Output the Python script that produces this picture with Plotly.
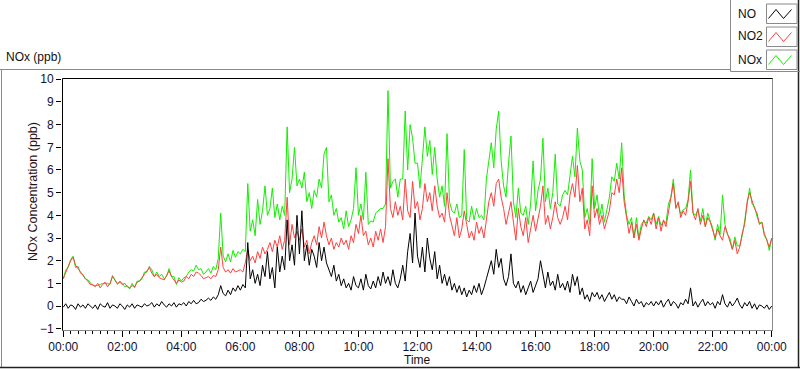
import pandas as pd
import plotly.graph_objects as go

# ---- data (5-minute samples, 00:00 .. 24:00) ----
DAY = "2024-01-01"
STEP_MIN = 5

NO = [
    -0.05, 0.1, -0.1, 0.05, 0.0, -0.15, 0.1, -0.05, 0.05, -0.1, 0.1, 0.0,
    -0.1, 0.05, -0.15, 0.1, 0.0, -0.05, 0.15, -0.1, 0.05, 0.0, -0.1, 0.1,
    0.0, -0.15, 0.05, -0.05, 0.1, -0.1, 0.05, 0.0, -0.05, 0.1, 0.0, 0.05,
    0.15, -0.05, 0.1, 0.0, 0.2, 0.05, -0.05, 0.1, 0.0, 0.15, -0.05, 0.1,
    0.05, 0.15, 0.0, 0.2, 0.1, 0.25, 0.1, 0.15, 0.3, 0.2, 0.25, 0.35,
    0.25, 0.4, 0.3, 0.5, 0.9, 0.55, 0.45, 0.7, 0.5, 0.8, 0.65, 0.9,
    0.7, 0.95, 0.8, 2.8, 1.2, 1.6, 1.0, 1.4, 0.9, 1.8, 1.3, 2.4,
    1.2, 1.7, 0.8, 2.6, 1.5, 2.2, 1.6, 3.8, 2.0, 2.7, 1.8, 4.0,
    2.3, 4.2, 2.0, 2.7, 1.8, 2.5, 2.2, 1.7, 2.8, 2.0, 2.6, 1.9,
    1.6, 1.3, 1.8, 1.1, 1.4, 0.9, 1.2, 0.8, 1.0, 0.7, 1.3, 0.9,
    0.8, 1.2, 0.7, 1.4, 0.9, 0.75, 1.1, 0.8, 1.3, 0.9, 1.5, 1.0,
    1.3, 0.9, 1.6, 1.0, 0.8, 1.2, 1.8, 1.1, 2.4, 3.2, 1.9, 4.1,
    2.2, 1.7, 2.6, 1.5, 3.0, 2.1, 1.6, 2.4, 1.2, 1.8, 1.0, 1.4,
    0.9, 1.3, 0.7, 1.0, 0.6, 0.9, 0.5, 0.8, 0.4, 0.7, 0.5, 0.9,
    0.6, 1.0, 0.5, 0.8, 1.2, 1.6, 2.0, 1.4, 2.5, 1.7, 2.1, 1.2,
    0.9, 1.3, 2.3, 1.0, 0.8, 1.1, 0.6, 0.9, 0.5, 0.8, 1.1, 0.6,
    0.9, 1.2, 2.0, 1.3, 0.8, 1.5, 0.9, 1.1, 0.7, 1.4, 0.8, 1.0,
    0.7, 1.1, 0.6, 1.4, 0.9, 1.3, 0.5, 0.8, 0.3, 0.5, 0.2, 0.6,
    0.4, 0.6, 0.3, 0.5, 0.2, 0.4, 0.6, 0.3, 0.5, 0.2, 0.4, 0.3,
    0.3, 0.1, 0.4, 0.2, 0.0, 0.3, 0.1, 0.2, -0.05, 0.15, 0.05, 0.2,
    0.0, 0.2, 0.05, 0.25, -0.05, 0.15, 0.3, 0.0, 0.2, 0.1, -0.1, 0.15,
    0.05, 0.3, 0.1, 0.8, 0.0, 0.2, -0.05, 0.15, 0.3, 0.0, 0.2, 0.05,
    0.15, -0.1, 0.2, 0.05, 0.5, 0.1, -0.05, 0.2, 0.0, 0.15, 0.35, 0.05,
    -0.1, 0.15, 0.0, 0.2, -0.1, 0.1, -0.15, 0.05, 0.0, -0.1, 0.05, -0.15,
    0.0,
]

NO2 = [
    1.2, 1.5, 1.75, 2.0, 2.15, 1.8, 1.65, 1.45, 1.35, 1.2, 1.1, 0.95,
    0.95, 0.85, 1.0, 0.8, 0.95, 1.05, 0.85, 1.0, 1.3, 1.15, 1.0, 1.05,
    0.95, 1.0, 0.85, 0.8, 0.9, 0.85, 1.05, 1.1, 1.25, 1.4, 1.5, 1.7,
    1.45, 1.3, 1.4, 1.25, 1.2, 1.15, 1.35, 1.55, 1.3, 1.15, 1.0, 1.15,
    1.05, 1.1, 1.3, 1.2, 1.4, 1.3, 1.5, 1.45, 1.35, 1.2, 1.25, 1.3,
    1.2, 1.35, 1.3, 1.6, 2.6, 1.7, 1.5, 1.6, 1.45, 1.65, 1.5, 1.55,
    1.6, 1.5, 1.9, 2.5, 2.0, 2.2, 1.9, 2.4, 2.1, 2.6, 2.3, 2.5,
    2.8, 2.4, 2.9, 2.6, 3.1, 2.5, 2.9, 4.8, 2.7, 3.6, 3.0, 3.3,
    2.9, 3.4, 2.6, 2.9, 2.3, 2.8, 3.1, 2.7, 3.5, 3.0, 3.7, 3.1,
    2.7, 3.0, 2.5, 2.8, 2.6, 3.0, 2.7, 2.9, 2.5, 3.1, 2.8, 3.6,
    3.2, 4.0, 3.1, 3.3, 2.7, 3.0, 2.6, 3.3, 2.9, 3.4, 2.8, 3.5,
    6.5, 4.3, 3.9, 4.6, 4.0, 4.4, 3.8, 5.6, 4.2, 3.9, 5.5, 4.3,
    4.6, 3.8, 4.3, 5.4, 4.6, 5.0, 4.2, 5.3, 4.4, 3.9, 4.1, 3.7,
    5.0, 4.0, 3.5, 3.1, 3.9, 3.0, 3.4, 4.2, 3.6, 3.0, 3.3, 2.9,
    3.7, 3.2, 3.5, 3.0, 3.8, 4.6, 5.0, 4.4, 5.4, 5.6, 4.8, 4.3,
    3.6, 4.1, 4.6, 3.7, 2.9, 4.3, 3.5, 3.1, 3.9, 2.8, 3.4, 4.0,
    3.3, 3.9, 4.4, 5.3, 3.6, 4.0, 3.4, 3.9, 4.6, 3.9, 3.6, 3.9,
    4.4, 3.8, 4.9, 5.4, 4.8, 6.2, 4.6, 5.2, 3.4, 3.8, 3.1, 5.3,
    3.9, 4.3, 3.6, 4.0, 3.4, 3.8, 4.2, 5.0, 4.9, 5.6, 5.0, 6.1,
    4.6, 3.9, 3.2, 3.7, 3.0, 3.6, 2.9, 3.4, 3.8, 3.5, 3.9, 3.6,
    4.1, 3.4, 3.9, 3.3, 3.8, 3.5, 4.2, 4.8, 5.4, 4.3, 4.6, 3.9,
    4.2, 4.0, 4.6, 5.5, 4.1, 3.8, 4.3, 3.6, 4.0, 3.5, 3.9, 3.7,
    3.3, 3.0, 3.4, 3.1, 2.9, 3.5, 3.2, 2.8, 2.5, 2.9, 2.3, 2.6,
    3.2, 3.6, 4.6, 5.0, 4.6, 4.3, 4.1, 3.6, 3.7, 3.2, 2.9, 2.6,
    3.0,
]

NOX = [
    1.2, 1.6, 1.7, 2.05, 2.2, 1.7, 1.75, 1.45, 1.4, 1.2, 1.15, 1.0,
    0.9, 0.9, 0.9, 0.95, 1.0, 1.0, 1.0, 0.95, 1.35, 1.15, 0.95, 1.1,
    1.0, 0.85, 0.9, 0.75, 1.0, 0.8, 1.1, 1.1, 1.2, 1.5, 1.5, 1.75,
    1.6, 1.3, 1.5, 1.3, 1.4, 1.2, 1.3, 1.65, 1.3, 1.3, 0.95, 1.25,
    1.1, 1.25, 1.3, 1.5, 1.6, 1.55, 1.8, 1.6, 1.65, 1.4, 1.5, 1.65,
    1.45, 1.75, 1.6, 2.1, 4.1, 2.2, 1.95, 2.3, 1.95, 2.45, 2.15, 2.4,
    2.3, 2.5, 2.4, 5.4, 3.3, 3.8, 3.1, 4.7, 3.6, 4.2, 5.3, 4.0,
    4.3, 5.2, 3.9, 4.5, 3.8, 4.4, 4.0, 7.9, 5.0, 5.6, 7.0, 5.3,
    5.6, 5.2, 5.9, 4.6, 5.0, 4.3, 5.1, 4.8, 5.6, 5.2, 6.7, 7.0,
    4.6, 4.9, 4.0, 4.3, 3.7, 3.9, 3.4, 4.2, 3.5, 3.8, 4.3, 6.1,
    4.0, 4.5, 3.8, 5.9, 3.6, 3.75, 3.7, 4.1, 4.2, 4.3, 4.3, 4.5,
    9.5, 5.2, 5.5, 5.6, 4.8, 5.6, 5.6, 8.6, 6.0, 8.0, 7.4, 6.3,
    6.3, 5.2, 6.5, 7.9, 6.6, 7.3, 5.8, 7.0, 5.6, 4.8, 5.3, 4.4,
    7.6, 4.6, 4.2, 4.1, 4.5, 3.9, 4.0, 6.9, 3.8, 3.7, 4.4, 3.8,
    4.3, 3.9, 4.0, 3.8, 5.6, 6.4, 7.2, 6.1, 7.8, 8.6, 6.4, 5.3,
    4.8, 6.3, 7.5, 4.6, 3.9, 5.2, 4.1, 4.0, 4.4, 3.6, 4.5, 6.4,
    4.2, 5.1, 5.6, 7.4, 4.6, 5.2, 4.3, 5.0, 6.7, 4.5, 4.4, 4.9,
    5.1, 4.9, 5.8, 6.6, 5.7, 7.85, 6.4, 6.0, 3.9, 4.3, 3.6, 6.5,
    4.3, 4.9, 3.9, 4.5, 3.7, 4.2, 4.8, 5.7, 5.5, 6.3, 5.6, 7.2,
    4.9, 4.0, 3.6, 3.9, 3.0, 3.9, 3.0, 3.6, 3.75, 3.65, 3.95, 3.8,
    4.1, 3.6, 3.95, 3.55, 3.75, 3.65, 4.5, 4.8, 5.6, 4.4, 4.5, 4.05,
    4.25, 4.3, 4.7, 6.0, 4.1, 4.0, 4.25, 3.75, 4.3, 3.5, 4.1, 3.75,
    3.45, 2.9, 3.6, 3.15, 4.9, 3.6, 3.15, 3.0, 2.5, 3.05, 2.65, 2.65,
    3.1, 3.75, 4.6, 5.2, 4.5, 4.4, 3.95, 3.65, 3.7, 3.1, 2.95, 2.45,
    3.0,
]

SERIES_NAMES = ["NO", "NO2", "NOx"]
SERIES_COLORS = ["#000000", "#ff4040", "#12ee00"]

Y_TICKS = list(range(-1, 11))

base = pd.Timestamp(DAY)
times = pd.date_range(base, periods=len(NO2), freq=f"{STEP_MIN}min")

W, H = 800, 369
ML, MR, MT, MB = 62, 27, 78, 39
PW, PH = W - ML - MR, H - MT - MB
FONT = "Liberation Sans, Arial, sans-serif"


def px(x):
    return (x - ML) / PW


def py(y):
    return 1 - (y - MT) / PH


fig = go.Figure()
# draw order: NOx bottom, NO2 middle, NO on top
for name, vals, col in [("NOx", NOX, SERIES_COLORS[2]),
                        ("NO2", NO2, SERIES_COLORS[1]),
                        ("NO", NO, SERIES_COLORS[0])]:
    fig.add_trace(go.Scatter(x=times, y=vals, mode="lines", name=name,
                             line=dict(color=col, width=1), showlegend=False))

x0 = base - pd.Timedelta(minutes=2.6)
x1 = base + pd.Timedelta(minutes=1442.6)

fig.update_layout(
    width=W, height=H,
    margin=dict(l=ML, r=MR, t=MT, b=MB, pad=0),
    paper_bgcolor="white", plot_bgcolor="white",
    font=dict(family=FONT, size=12, color="#111111"),
    xaxis=dict(
        type="date", range=[x0, x1], tickformat="%H:%M",
        tick0=base, dtick=2 * 3600 * 1000,
        ticks="outside", ticklen=6, tickcolor="black", tickwidth=1,
        minor=dict(dtick=15 * 60 * 1000, ticks="outside", ticklen=3,
                   tickcolor="black", showgrid=False),
        showgrid=False, zeroline=False, showline=False,
        tickfont=dict(family=FONT, size=12, color="#111133"),
    ),
    yaxis=dict(
        range=[-1.057, 10.057], tickvals=Y_TICKS,
        ticks="outside", ticklen=5, tickcolor="black", tickwidth=1,
        showgrid=False, zeroline=False, showline=False,
        tickfont=dict(family=FONT, size=12, color="#111133"),
    ),
)

shapes = []
# plot frame
shapes.append(dict(type="line", xref="paper", yref="paper",
                   x0=px(62.5), x1=px(62.5), y0=py(78.5), y1=py(331),
                   line=dict(color="black", width=1)))
shapes.append(dict(type="line", xref="paper", yref="paper",
                   x0=px(62.5), x1=px(773), y0=py(78.5), y1=py(78.5),
                   line=dict(color="black", width=1)))
shapes.append(dict(type="line", xref="paper", yref="paper",
                   x0=px(772.5), x1=px(772.5), y0=py(78.5), y1=py(330.5),
                   line=dict(color="#8a8a8a", width=1)))
shapes.append(dict(type="line", xref="paper", yref="paper",
                   x0=px(62.5), x1=px(773), y0=py(330.5), y1=py(330.5),
                   line=dict(color="#8a8a8a", width=1)))
# outer panel
shapes.append(dict(type="line", xref="paper", yref="paper",
                   x0=px(0), x1=px(730), y0=py(69.5), y1=py(69.5),
                   line=dict(color="#8a8a8a", width=1)))
shapes.append(dict(type="line", xref="paper", yref="paper",
                   x0=px(1.5), x1=px(1.5), y0=py(69.5), y1=py(367.5),
                   line=dict(color="#8a8a8a", width=1)))
shapes.append(dict(type="line", xref="paper", yref="paper",
                   x0=px(0), x1=px(800), y0=py(367.5), y1=py(367.5),
                   line=dict(color="#222222", width=1.5)))
shapes.append(dict(type="line", xref="paper", yref="paper",
                   x0=px(798.5), x1=px(798.5), y0=py(0), y1=py(368),
                   line=dict(color="#222222", width=1.5)))
# legend box
shapes.append(dict(type="line", xref="paper", yref="paper",
                   x0=px(730.5), x1=px(730.5), y0=py(0), y1=py(71.5),
                   line=dict(color="#8a8a8a", width=1)))
shapes.append(dict(type="line", xref="paper", yref="paper",
                   x0=px(730.5), x1=px(800), y0=py(71.5), y1=py(71.5),
                   line=dict(color="#8a8a8a", width=1)))

annotations = []
legend_tops = [4, 27, 50]
legend_text_y = [13.5, 36, 59.5]
for name, col, top, ty in zip(SERIES_NAMES, SERIES_COLORS, legend_tops, legend_text_y):
    shapes.append(dict(type="rect", xref="paper", yref="paper",
                       x0=px(766.5), x1=px(797), y0=py(top), y1=py(top + 19.5),
                       line=dict(color="#8a8a8a", width=1), fillcolor="white"))
    pts = [(768.5, top + 14.5), (776, top + 5.5), (783.5, top + 14.5), (791.5, top + 5.5)]
    path = "M " + " L ".join(f"{px(a)},{py(b)}" for a, b in pts)
    shapes.append(dict(type="path", xref="paper", yref="paper", path=path,
                       line=dict(color=col, width=1)))
    annotations.append(dict(text=name, xref="paper", yref="paper",
                            x=px(736), y=py(ty), xanchor="left", yanchor="middle",
                            showarrow=False, font=dict(family=FONT, size=12, color="#111111")))

annotations.append(dict(text="NOx (ppb)", xref="paper", yref="paper",
                        x=px(4), y=py(57), xanchor="left", yanchor="middle",
                        showarrow=False, font=dict(family=FONT, size=12, color="#111111")))
annotations.append(dict(text="NOx Concentration (ppb)", xref="paper", yref="paper",
                        x=px(33), y=py(192), xanchor="center", yanchor="middle",
                        textangle=-90, showarrow=False,
                        font=dict(family=FONT, size=12.5, color="#2a1010")))
annotations.append(dict(text="Time", xref="paper", yref="paper",
                        x=px(417), y=py(360), xanchor="center", yanchor="middle",
                        showarrow=False, font=dict(family=FONT, size=12, color="#111111")))

fig.update_layout(shapes=shapes, annotations=annotations)
fig.write_html("out.html",
               config={"displayModeBar": False, "staticPlot": True},
               post_script="document.body.style.margin='0';document.body.style.overflow='hidden';")
